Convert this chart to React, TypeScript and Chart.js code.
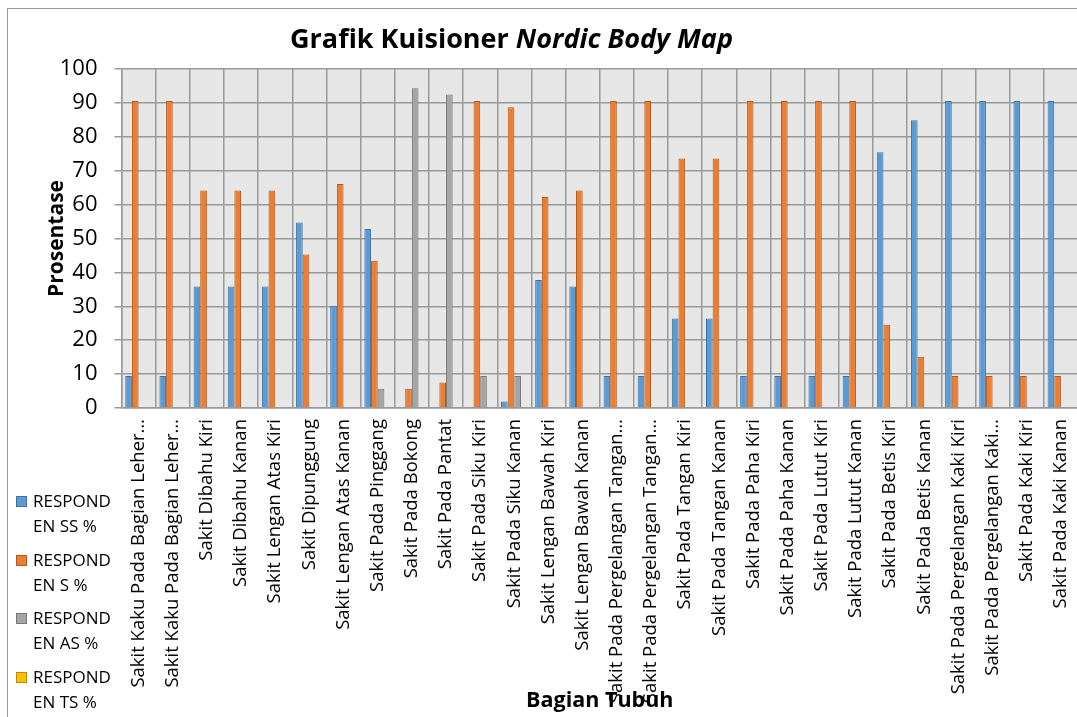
import React, { useEffect, useRef } from "react";
import { Chart, registerables } from "chart.js";

Chart.register(...registerables);

const categories = [
  "Sakit Kaku Pada Bagian Leher…",
  "Sakit Kaku Pada Bagian Leher…",
  "Sakit Dibahu Kiri",
  "Sakit Dibahu Kanan",
  "Sakit Lengan Atas Kiri",
  "Sakit Dipunggung",
  "Sakit Lengan Atas Kanan",
  "Sakit Pada Pinggang",
  "Sakit Pada Bokong",
  "Sakit Pada Pantat",
  "Sakit Pada Siku Kiri",
  "Sakit Pada Siku Kanan",
  "Sakit Lengan Bawah Kiri",
  "Sakit Lengan Bawah Kanan",
  "Sakit Pada Pergelangan Tangan…",
  "Sakit Pada Pergelangan Tangan…",
  "Sakit Pada Tangan Kiri",
  "Sakit Pada Tangan Kanan",
  "Sakit Pada Paha Kiri",
  "Sakit Pada Paha Kanan",
  "Sakit Pada Lutut Kiri",
  "Sakit Pada Lutut Kanan",
  "Sakit Pada Betis Kiri",
  "Sakit Pada Betis Kanan",
  "Sakit Pada Pergelangan Kaki Kiri",
  "Sakit Pada Pergelangan Kaki…",
  "Sakit Pada Kaki Kiri",
  "Sakit Pada Kaki Kanan",
];

const seriesLabels = ["RESPONDEN SS %", "RESPONDEN S %", "RESPONDEN AS %", "RESPONDEN TS %"];

const ssValues = [9.43, 9.43, 35.85, 35.85, 35.85, 54.72, 30.19, 52.83, 0, 0, 0, 1.89, 37.74, 35.85, 9.43, 9.43, 26.42, 26.42, 9.43, 9.43, 9.43, 9.43, 75.47, 84.91, 90.57, 90.57, 90.57, 90.57];
const sValues = [90.57, 90.57, 64.15, 64.15, 64.15, 45.28, 66.04, 43.4, 5.66, 7.55, 90.57, 88.68, 62.26, 64.15, 90.57, 90.57, 73.58, 73.58, 90.57, 90.57, 90.57, 90.57, 24.53, 15.09, 9.43, 9.43, 9.43, 9.43];
const asValues = [0, 0, 0, 0, 0, 0, 0, 5.66, 94.34, 92.45, 9.43, 9.43, 0, 0, 0, 0, 0, 0, 0, 0, 0, 0, 0, 0, 0, 0, 0, 0];
const tsValues = [0, 0, 0, 0, 0, 0, 0, 0, 0, 0, 0, 0, 0, 0, 0, 0, 0, 0, 0, 0, 0, 0, 0, 0, 0, 0, 0, 0];

const yMin = 0;
const yMax = 100;
const yStep = 10;

const fillColors = ["#5B9BD5", "#ED7D31", "#A5A5A5", "#FFC000"];
const borderColors = ["#41719C", "#AE5A21", "#787878", "#BC8C00"];
const gridColor = "#9A9A9A";
const FONT = "'Open Sans', sans-serif";

export default function App() {
  const ref = useRef<HTMLCanvasElement>(null);

  useEffect(() => {
    if (!ref.current) return;
    Chart.defaults.font.family = FONT;
    const plotBg = {
      id: "plotBg",
      beforeDraw(chart: any) {
        const { ctx, chartArea: a } = chart;
        ctx.save();
        ctx.fillStyle = "#E7E7E7";
        ctx.fillRect(a.left, a.top, a.right - a.left, a.bottom - a.top);
        ctx.restore();
      },
    };
    const allValues = [ssValues, sValues, asValues, tsValues];
    const chart = new Chart(ref.current, {
      type: "bar",
      data: {
        labels: categories,
        datasets: allValues.map((vals, i) => ({
          label: seriesLabels[i],
          data: vals,
          backgroundColor: fillColors[i],
          borderColor: borderColors[i],
          borderWidth: 1,
          categoryPercentage: 0.78,
          barPercentage: 1,
        })),
      },
      options: {
        responsive: false,
        maintainAspectRatio: false,
        animation: false,
        layout: { padding: { top: 60, left: 0, right: 30, bottom: 0 } },
        plugins: {
          legend: { display: false },
          title: { display: false },
          tooltip: { enabled: false },
        },
        scales: {
          x: {
            grid: { offset: true, color: gridColor, lineWidth: 1.5, drawTicks: false },
            border: { color: gridColor, width: 1.5 },
            ticks: {
              autoSkip: false,
              minRotation: 90,
              maxRotation: 90,
              padding: 11,
              color: "#000",
              font: { family: FONT, size: 18.5 },
            },
            title: {
              display: true,
              text: "Bagian Tubuh",
              color: "#000",
              font: { family: FONT, size: 21.5, weight: "bold" },
              padding: { top: 0, bottom: 3 },
            },
            afterFit: (s: any) => {
              s.height = 309;
            },
          },
          y: {
            min: yMin,
            max: yMax,
            ticks: { stepSize: yStep, padding: 17, color: "#000", font: { family: FONT, size: 22 } },
            grid: { color: gridColor, lineWidth: 1.5, tickLength: 7, tickColor: gridColor },
            border: { color: gridColor, width: 1.5 },
            title: {
              display: true,
              text: "Prosentase",
              color: "#000",
              font: { family: FONT, size: 21, weight: "bold" },
              padding: { top: 36, bottom: 0 },
            },
            afterFit: (s: any) => {
              s.width = 113.5;
            },
          },
        },
      } as any,
      plugins: [plotBg],
    });
    return () => chart.destroy();
  }, []);

  const legendTops = [488, 546.7, 605.4, 664];

  return (
    <div
      style={{
        position: "fixed",
        left: 0,
        top: 0,
        width: 1077,
        height: 717,
        overflow: "hidden",
        background: "#fff",
        fontFamily: FONT,
        color: "#000",
      }}
    >
      <div
        style={{
          position: "absolute",
          left: 7,
          top: 8,
          width: 1120,
          height: 740,
          border: "1px solid #9A9A9A",
          boxSizing: "border-box",
        }}
      />
      <canvas ref={ref} width={1100} height={708} style={{ position: "absolute", left: 8, top: 9 }} />
      <div
        style={{
          position: "absolute",
          left: 0,
          top: 23,
          width: 1023,
          textAlign: "center",
          fontSize: 27,
          fontWeight: 700,
          lineHeight: "30px",
          whiteSpace: "nowrap",
        }}
      >
        Grafik Kuisioner <i>Nordic Body Map</i>
      </div>
      {seriesLabels.map((lab, i) => (
        <div key={lab} style={{ position: "absolute", left: 0, top: legendTops[i], width: 120 }}>
          <div
            style={{
              position: "absolute",
              left: 16,
              top: 8,
              width: 11,
              height: 11,
              background: fillColors[i],
              border: `1px solid ${borderColors[i]}`,
              boxSizing: "border-box",
            }}
          />
          <div style={{ position: "absolute", left: 33, top: 0, fontSize: 17, lineHeight: "25px", whiteSpace: "nowrap" }}>
            {lab.slice(0, 7)}
            <br />
            {lab.slice(7)}
          </div>
        </div>
      ))}
    </div>
  );
}
